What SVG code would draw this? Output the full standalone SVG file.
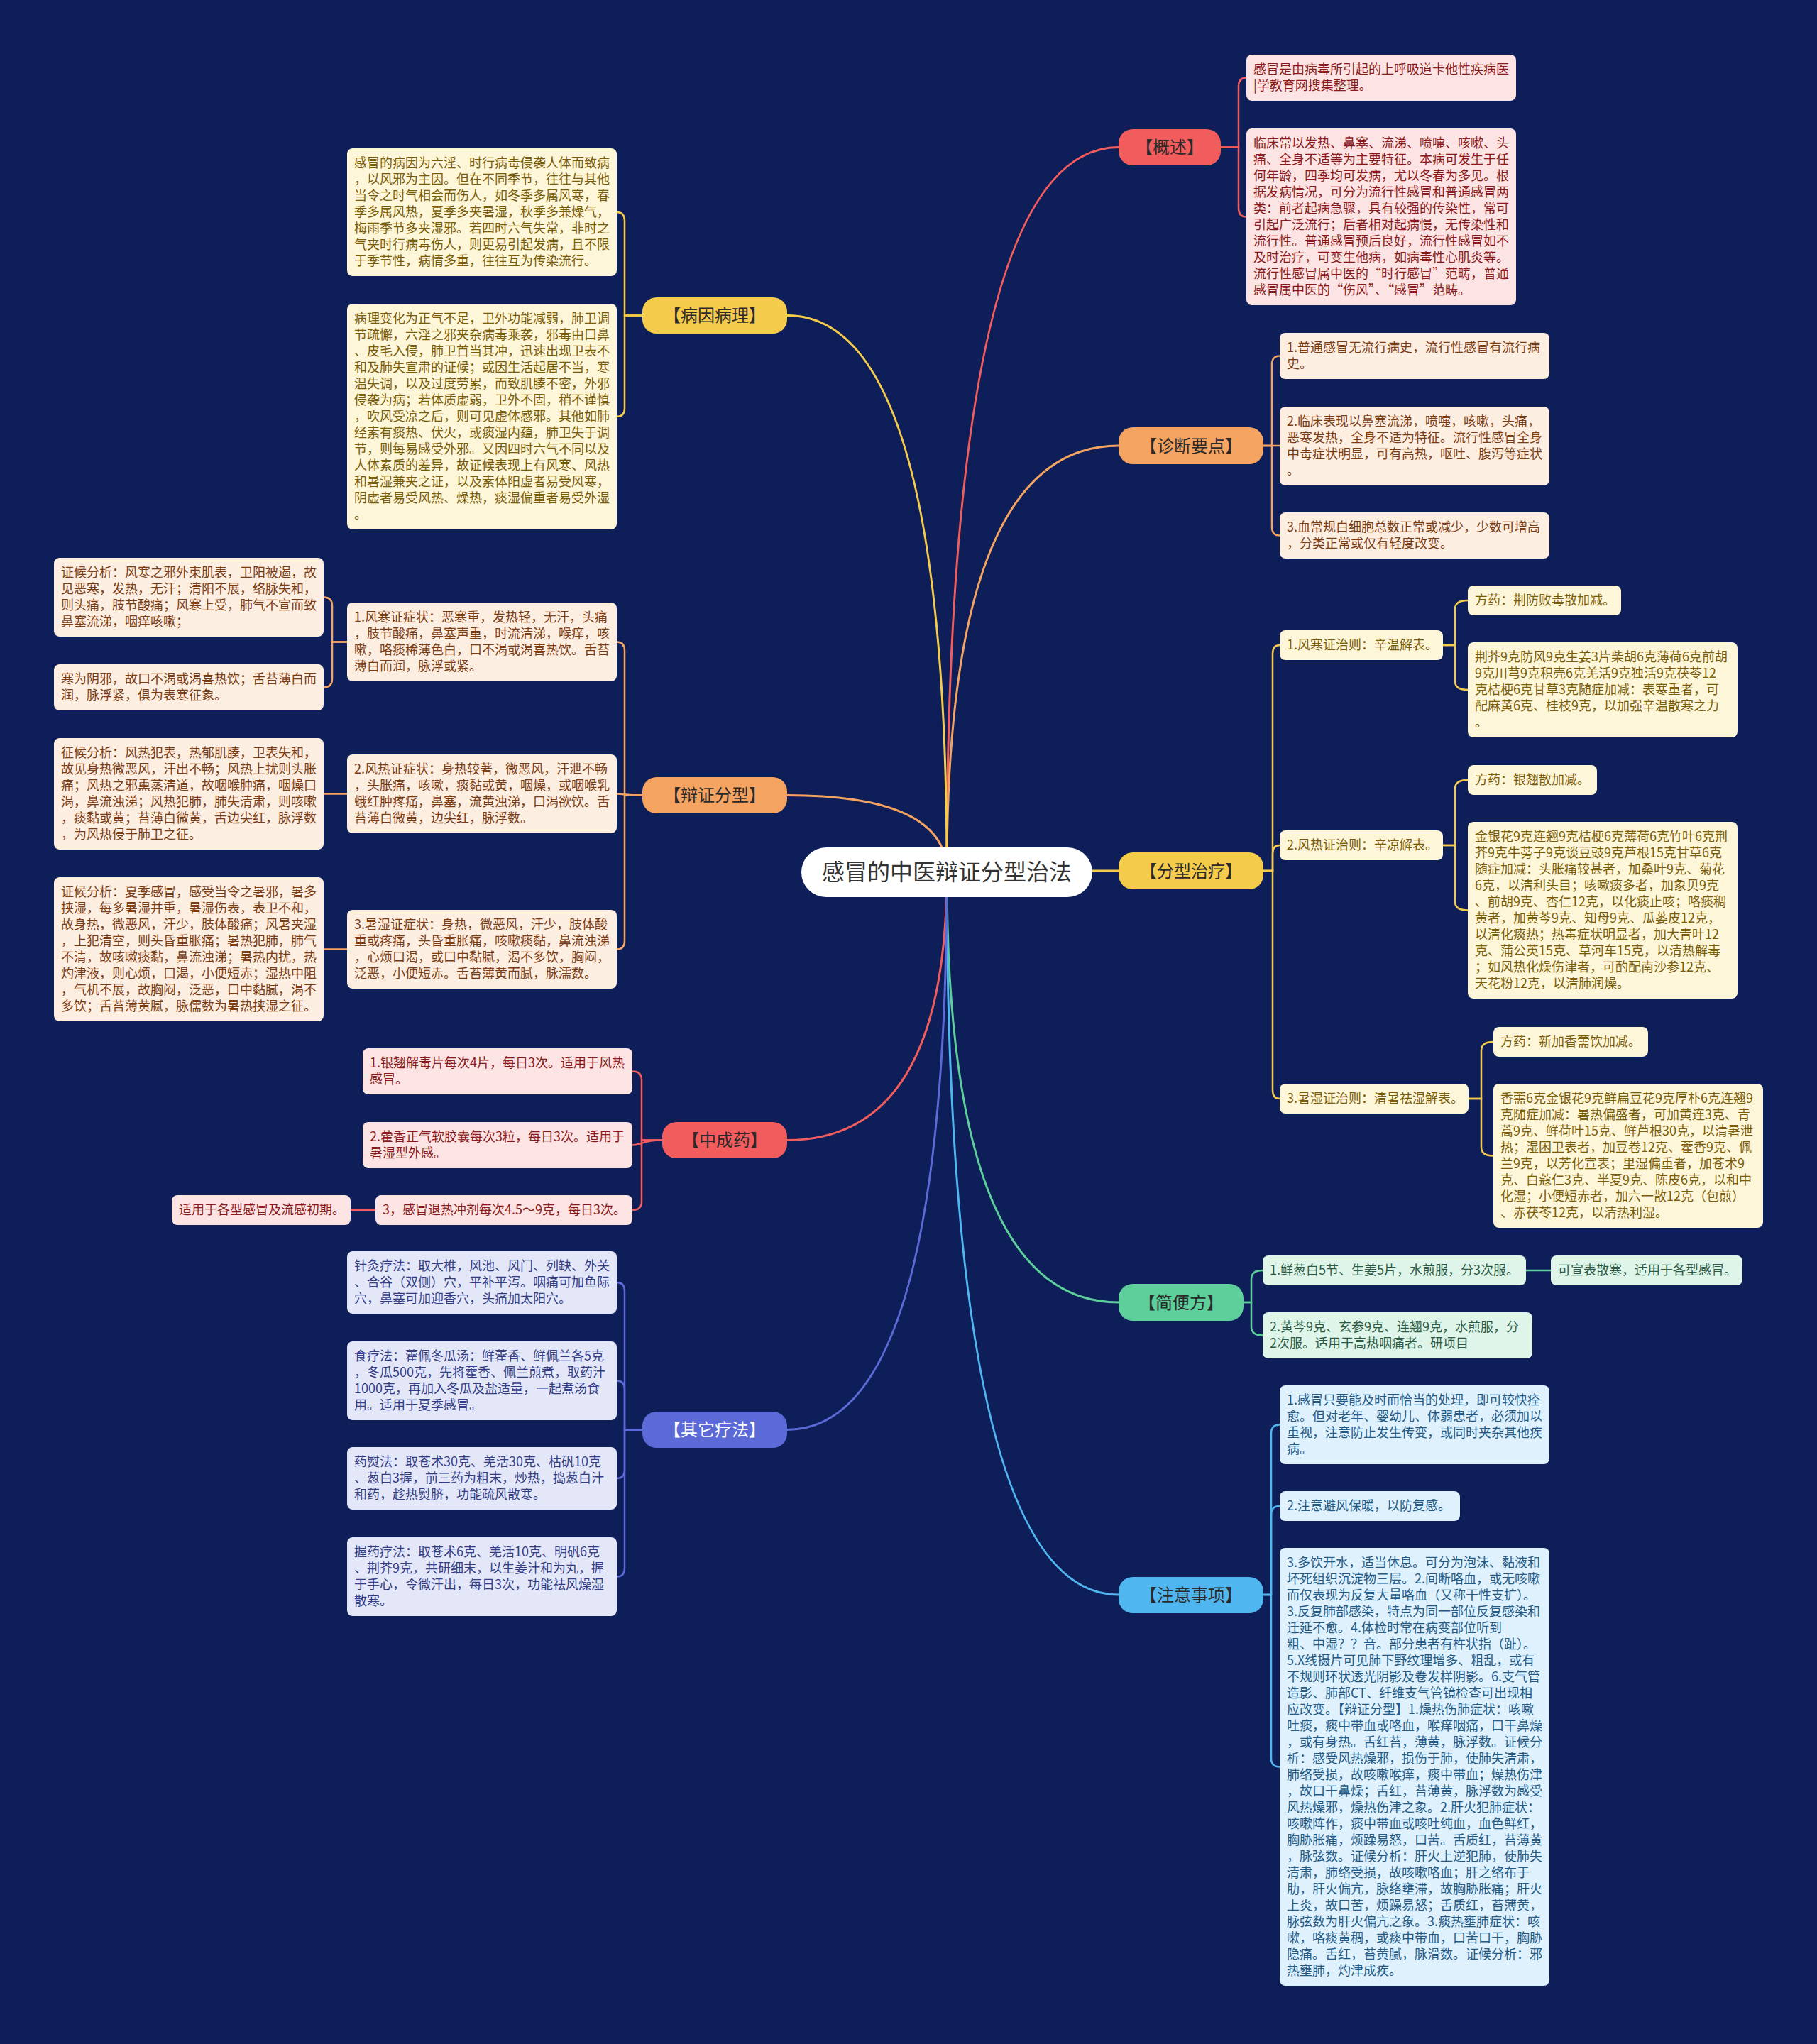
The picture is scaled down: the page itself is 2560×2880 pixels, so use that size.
<svg xmlns="http://www.w3.org/2000/svg" width="2560" height="2880" viewBox="0 0 2560 2880">
<style>
text{font-family:"Noto Sans CJK SC","Noto Sans",sans-serif}
.t{font-size:18px}
.bt{font-size:24px;text-anchor:middle;fill:#2a2a2a}
.ln{fill:none;stroke-width:3;stroke-linecap:round}
.sl{fill:none;stroke-width:2.5;stroke-linecap:round}
.kr{stroke:#f25c5c}.ky{stroke:#f5cb4c}.ko{stroke:#f5a361}.kg{stroke:#5ccf9a}.ki{stroke:#5b6ad6}.kb{stroke:#4fb6ef}
.br{fill:#f25c5c}.by{fill:#f5cb4c}.bo{fill:#f5a361}.bg{fill:#5ccf9a}.bi{fill:#5b6ad6}.bb{fill:#4fb6ef}
.fr{fill:#fde4e4}.fy{fill:#fdf6d9}.fo{fill:#fdeee2}.fg{fill:#e0f5e9}.fi{fill:#e4e7f8}.fb{fill:#def1fd}
.tr{fill:#8a1a1a}.ty{fill:#7a5c08}.to{fill:#7b3c12}.tg{fill:#2b5a44}.ti{fill:#323d85}.tb{fill:#235a86}
</style>
<rect width="2560" height="2880" fill="#0e1e58"/>
<g id="connectors">
<path class="ln kr" d="M1334 1229 Q1334 207.5 1576 207.5"/>
<path class="ln ko" d="M1334 1229 Q1334 628 1576 628"/>
<path class="ln ky" d="M1334 1229 Q1334 1227 1576 1227"/>
<path class="ln kg" d="M1334 1229 Q1334 1835 1576 1835"/>
<path class="ln kb" d="M1334 1229 Q1334 2247 1576 2247"/>
<path class="ln ky" d="M1334 1229 Q1334 444.5 1109 444.5"/>
<path class="ln ko" d="M1334 1229 Q1334 1120.5 1109 1120.5"/>
<path class="ln kr" d="M1334 1229 Q1334 1606.5 1109 1606.5"/>
<path class="ln ki" d="M1334 1229 Q1334 2014.5 1109 2014.5"/>
<path class="sl kr" d="M1720 207.5 H1745 V121.5 Q1745 109.5 1756 109.5"/>
<path class="sl kr" d="M1720 207.5 H1745 V293.5 Q1745 305.5 1756 305.5"/>
<path class="sl ko" d="M1780 628 H1792 V513.5 Q1792 501.5 1803 501.5"/>
<path class="sl ko" d="M1780 628 H1803"/>
<path class="sl ko" d="M1780 628 H1792 V742.5 Q1792 754.5 1803 754.5"/>
<path class="sl ky" d="M905 444.5 H880 V311 Q880 299 869 299"/>
<path class="sl ky" d="M905 444.5 H880 V575 Q880 587 869 587"/>
<path class="sl ko" d="M905 1120.5 H880 V916.5 Q880 904.5 869 904.5"/>
<path class="sl ko" d="M905 1120.5 C880 1120.5 880 1118.5 869 1118.5"/>
<path class="sl ko" d="M905 1120.5 H880 V1325.5 Q880 1337.5 869 1337.5"/>
<path class="sl ko" d="M489 904.5 H468 V853.5 Q468 841.5 456 841.5"/>
<path class="sl ko" d="M489 904.5 H468 V956.5 Q468 968.5 456 968.5"/>
<path class="sl ko" d="M489 1118.5 H456"/>
<path class="sl ko" d="M489 1337.5 H456"/>
<path class="sl kr" d="M933 1606.5 H904 V1521.5 Q904 1509.5 891 1509.5"/>
<path class="sl kr" d="M933 1606.5 C904 1606.5 904 1613.5 891 1613.5"/>
<path class="sl kr" d="M933 1606.5 H904 V1693 Q904 1705 891 1705"/>
<path class="sl kr" d="M529 1705 H494"/>
<path class="sl ki" d="M905 2014.5 H880 V1819 Q880 1807 869 1807"/>
<path class="sl ki" d="M905 2014.5 H880 V1957.5 Q880 1945.5 869 1945.5"/>
<path class="sl ki" d="M905 2014.5 H880 V2071 Q880 2083 869 2083"/>
<path class="sl ki" d="M905 2014.5 H880 V2209.5 Q880 2221.5 869 2221.5"/>
<path class="sl ky" d="M1780 1227 H1793 V921 Q1793 909 1803 909"/>
<path class="sl ky" d="M1780 1227 H1793 V1203 Q1793 1191 1803 1191"/>
<path class="sl ky" d="M1780 1227 H1793 V1536 Q1793 1548 1803 1548"/>
<path class="sl ky" d="M2033 909 H2050 V858 Q2050 846 2068 846"/>
<path class="sl ky" d="M2033 909 H2050 V960 Q2050 972 2068 972"/>
<path class="sl ky" d="M2033 1191 H2050 V1111 Q2050 1099 2068 1099"/>
<path class="sl ky" d="M2033 1191 H2050 V1270.5 Q2050 1282.5 2068 1282.5"/>
<path class="sl ky" d="M2069 1548 H2087 V1480 Q2087 1468 2104 1468"/>
<path class="sl ky" d="M2069 1548 H2087 V1616.5 Q2087 1628.5 2104 1628.5"/>
<path class="sl kg" d="M1752 1835 H1763 V1802 Q1763 1790 1779 1790"/>
<path class="sl kg" d="M1752 1835 H1763 V1869.5 Q1763 1881.5 1779 1881.5"/>
<path class="sl kg" d="M2150 1790 H2185" stroke-width="4"/>
<path class="sl kb" d="M1780 2247 H1791 V2019.5 Q1791 2007.5 1803 2007.5"/>
<path class="sl kb" d="M1780 2247 H1791 V2134 Q1791 2122 1803 2122"/>
<path class="sl kb" d="M1780 2247 H1791 V2477.5 Q1791 2489.5 1803 2489.5"/>
</g>

<g id="center"><rect x="1129" y="1194" width="410" height="70" rx="35" fill="#ffffff"/><text x="1334" y="1240" font-size="32" text-anchor="middle" fill="#333333">感冒的中医辩证分型治法</text></g>

<g id="b-gaishu"><rect class="br" x="1576" y="182" width="144" height="51" rx="20"/><text class="bt" x="1648" y="216">【概述】</text></g>
<g id="b-zhenduan"><rect class="bo" x="1576" y="602" width="204" height="52" rx="20"/><text class="bt" x="1678" y="637">【诊断要点】</text></g>
<g id="b-fenxing"><rect class="by" x="1576" y="1201" width="204" height="52" rx="20"/><text class="bt" x="1678" y="1236">【分型治疗】</text></g>
<g id="b-jianbian"><rect class="bg" x="1576" y="1809" width="176" height="52" rx="20"/><text class="bt" x="1664" y="1844">【简便方】</text></g>
<g id="b-zhuyi"><rect class="bb" x="1576" y="2222" width="204" height="51" rx="20"/><text class="bt" x="1678" y="2256">【注意事项】</text></g>
<g id="b-bingyin"><rect class="by" x="905" y="419" width="204" height="51" rx="20"/><text class="bt" x="1007" y="453">【病因病理】</text></g>
<g id="b-bianzheng"><rect class="bo" x="905" y="1095" width="204" height="51" rx="20"/><text class="bt" x="1007" y="1129">【辩证分型】</text></g>
<g id="b-zhongchengyao"><rect class="br" x="933" y="1581" width="176" height="51" rx="20"/><text class="bt" x="1021" y="1615">【中成药】</text></g>
<g id="b-qita"><rect class="bi" x="905" y="1989" width="204" height="51" rx="20"/><text class="bt" x="1007" y="2023" style="fill:#ffffff">【其它疗法】</text></g>

<g id="gaishu-1"><rect class="fr" x="1756" y="77" width="380" height="65" rx="8"/><text class="t tr"><tspan x="1766" y="104">感冒是由病毒所引起的上呼吸道卡他性疾病医</tspan><tspan x="1766" y="127">|学教育网搜集整理。</tspan></text></g>
<g id="gaishu-2"><rect class="fr" x="1756" y="181" width="380" height="249" rx="8"/><text class="t tr"><tspan x="1766" y="208">临床常以发热、鼻塞、流涕、喷嚏、咳嗽、头</tspan><tspan x="1766" y="231">痛、全身不适等为主要特征。本病可发生于任</tspan><tspan x="1766" y="254">何年龄，四季均可发病，尤以冬春为多见。根</tspan><tspan x="1766" y="277">据发病情况，可分为流行性感冒和普通感冒两</tspan><tspan x="1766" y="300">类：前者起病急骤，具有较强的传染性，常可</tspan><tspan x="1766" y="323">引起广泛流行；后者相对起病慢，无传染性和</tspan><tspan x="1766" y="346">流行性。普通感冒预后良好，流行性感冒如不</tspan><tspan x="1766" y="369">及时治疗，可变生他病，如病毒性心肌炎等。</tspan><tspan x="1766" y="392">流行性感冒属中医的“时行感冒”范畴，普通</tspan><tspan x="1766" y="415">感冒属中医的“伤风”、“感冒”范畴。</tspan></text></g>

<g id="zhenduan-1"><rect class="fo" x="1803" y="469" width="380" height="65" rx="8"/><text class="t to"><tspan x="1813" y="496">1.普通感冒无流行病史，流行性感冒有流行病</tspan><tspan x="1813" y="519">史。</tspan></text></g>
<g id="zhenduan-2"><rect class="fo" x="1803" y="573" width="380" height="111" rx="8"/><text class="t to"><tspan x="1813" y="600">2.临床表现以鼻塞流涕，喷嚏，咳嗽，头痛，</tspan><tspan x="1813" y="623">恶寒发热，全身不适为特征。流行性感冒全身</tspan><tspan x="1813" y="646">中毒症状明显，可有高热，呕吐、腹泻等症状</tspan><tspan x="1813" y="669">。</tspan></text></g>
<g id="zhenduan-3"><rect class="fo" x="1803" y="722" width="380" height="65" rx="8"/><text class="t to"><tspan x="1813" y="749">3.血常规白细胞总数正常或减少，少数可增高</tspan><tspan x="1813" y="772">，分类正常或仅有轻度改变。</tspan></text></g>

<g id="bingyin-1"><rect class="fy" x="489" y="209" width="380" height="180" rx="8"/><text class="t ty"><tspan x="499" y="236">感冒的病因为六淫、时行病毒侵袭人体而致病</tspan><tspan x="499" y="259">，以风邪为主因。但在不同季节，往往与其他</tspan><tspan x="499" y="282">当令之时气相会而伤人，如冬季多属风寒，春</tspan><tspan x="499" y="305">季多属风热，夏季多夹暑湿，秋季多兼燥气，</tspan><tspan x="499" y="328">梅雨季节多夹湿邪。若四时六气失常，非时之</tspan><tspan x="499" y="351">气夹时行病毒伤人，则更易引起发病，且不限</tspan><tspan x="499" y="374">于季节性，病情多重，往往互为传染流行。</tspan></text></g>
<g id="bingyin-2"><rect class="fy" x="489" y="428" width="380" height="318" rx="8"/><text class="t ty"><tspan x="499" y="455">病理变化为正气不足，卫外功能减弱，肺卫调</tspan><tspan x="499" y="478">节疏懈，六淫之邪夹杂病毒乘袭，邪毒由口鼻</tspan><tspan x="499" y="501">、皮毛入侵，肺卫首当其冲，迅速出现卫表不</tspan><tspan x="499" y="524">和及肺失宣肃的证候；或因生活起居不当，寒</tspan><tspan x="499" y="547">温失调，以及过度劳累，而致肌腠不密，外邪</tspan><tspan x="499" y="570">侵袭为病；若体质虚弱，卫外不固，稍不谨慎</tspan><tspan x="499" y="593">，吹风受凉之后，则可见虚体感邪。其他如肺</tspan><tspan x="499" y="616">经素有痰热、伏火，或痰湿内蕴，肺卫失于调</tspan><tspan x="499" y="639">节，则每易感受外邪。又因四时六气不同以及</tspan><tspan x="499" y="662">人体素质的差异，故证候表现上有风寒、风热</tspan><tspan x="499" y="685">和暑湿兼夹之证，以及素体阳虚者易受风寒，</tspan><tspan x="499" y="708">阴虚者易受风热、燥热，痰湿偏重者易受外湿</tspan><tspan x="499" y="731">。</tspan></text></g>

<g id="bianzheng-1"><rect class="fo" x="489" y="849" width="380" height="111" rx="8"/><text class="t to"><tspan x="499" y="876">1.风寒证症状：恶寒重，发热轻，无汗，头痛</tspan><tspan x="499" y="899">，肢节酸痛，鼻塞声重，时流清涕，喉痒，咳</tspan><tspan x="499" y="922">嗽，咯痰稀薄色白，口不渴或渴喜热饮。舌苔</tspan><tspan x="499" y="945">薄白而润，脉浮或紧。</tspan></text></g>
<g id="bianzheng-1a"><rect class="fo" x="76" y="786" width="380" height="111" rx="8"/><text class="t to"><tspan x="86" y="813">证候分析：风寒之邪外束肌表，卫阳被遏，故</tspan><tspan x="86" y="836">见恶寒，发热，无汗；清阳不展，络脉失和，</tspan><tspan x="86" y="859">则头痛，肢节酸痛；风寒上受，肺气不宣而致</tspan><tspan x="86" y="882">鼻塞流涕，咽痒咳嗽；</tspan></text></g>
<g id="bianzheng-1b"><rect class="fo" x="76" y="936" width="380" height="65" rx="8"/><text class="t to"><tspan x="86" y="963">寒为阴邪，故口不渴或渴喜热饮；舌苔薄白而</tspan><tspan x="86" y="986">润，脉浮紧，俱为表寒征象。</tspan></text></g>
<g id="bianzheng-2"><rect class="fo" x="489" y="1063" width="380" height="111" rx="8"/><text class="t to"><tspan x="499" y="1090">2.风热证症状：身热较著，微恶风，汗泄不畅</tspan><tspan x="499" y="1113">，头胀痛，咳嗽，痰黏或黄，咽燥，或咽喉乳</tspan><tspan x="499" y="1136">蛾红肿疼痛，鼻塞，流黄浊涕，口渴欲饮。舌</tspan><tspan x="499" y="1159">苔薄白微黄，边尖红，脉浮数。</tspan></text></g>
<g id="bianzheng-2a"><rect class="fo" x="76" y="1040" width="380" height="157" rx="8"/><text class="t to"><tspan x="86" y="1067">征候分析：风热犯表，热郁肌腠，卫表失和，</tspan><tspan x="86" y="1090">故见身热微恶风，汗出不畅；风热上扰则头胀</tspan><tspan x="86" y="1113">痛；风热之邪熏蒸清道，故咽喉肿痛，咽燥口</tspan><tspan x="86" y="1136">渴，鼻流浊涕；风热犯肺，肺失清肃，则咳嗽</tspan><tspan x="86" y="1159">，痰黏或黄；苔薄白微黄，舌边尖红，脉浮数</tspan><tspan x="86" y="1182">，为风热侵于肺卫之征。</tspan></text></g>
<g id="bianzheng-3"><rect class="fo" x="489" y="1282" width="380" height="111" rx="8"/><text class="t to"><tspan x="499" y="1309">3.暑湿证症状：身热，微恶风，汗少，肢体酸</tspan><tspan x="499" y="1332">重或疼痛，头昏重胀痛，咳嗽痰黏，鼻流浊涕</tspan><tspan x="499" y="1355">，心烦口渴，或口中黏腻，渴不多饮，胸闷，</tspan><tspan x="499" y="1378">泛恶，小便短赤。舌苔薄黄而腻，脉濡数。</tspan></text></g>
<g id="bianzheng-3a"><rect class="fo" x="76" y="1236" width="380" height="203" rx="8"/><text class="t to"><tspan x="86" y="1263">证候分析：夏季感冒，感受当令之暑邪，暑多</tspan><tspan x="86" y="1286">挟湿，每多暑湿并重，暑湿伤表，表卫不和，</tspan><tspan x="86" y="1309">故身热，微恶风，汗少，肢体酸痛；风暑夹湿</tspan><tspan x="86" y="1332">，上犯清空，则头昏重胀痛；暑热犯肺，肺气</tspan><tspan x="86" y="1355">不清，故咳嗽痰黏，鼻流浊涕；暑热内扰，热</tspan><tspan x="86" y="1378">灼津液，则心烦，口渴，小便短赤；湿热中阻</tspan><tspan x="86" y="1401">，气机不展，故胸闷，泛恶，口中黏腻，渴不</tspan><tspan x="86" y="1424">多饮；舌苔薄黄腻，脉儒数为暑热挟湿之征。</tspan></text></g>

<g id="zcy-1"><rect class="fr" x="511" y="1477" width="380" height="65" rx="8"/><text class="t tr"><tspan x="521" y="1504">1.银翘解毒片每次4片，每日3次。适用于风热</tspan><tspan x="521" y="1527">感冒。</tspan></text></g>
<g id="zcy-2"><rect class="fr" x="511" y="1581" width="380" height="65" rx="8"/><text class="t tr"><tspan x="521" y="1608">2.藿香正气软胶囊每次3粒，每日3次。适用于</tspan><tspan x="521" y="1631">暑湿型外感。</tspan></text></g>
<g id="zcy-3"><rect class="fr" x="529" y="1684" width="362" height="42" rx="8"/><text class="t tr" x="539" y="1711">3，感冒退热冲剂每次4.5～9克，每日3次。</text></g>
<g id="zcy-3a"><rect class="fr" x="242" y="1684" width="252" height="42" rx="8"/><text class="t tr" x="252" y="1711">适用于各型感冒及流感初期。</text></g>

<g id="qita-1"><rect class="fi" x="489" y="1763" width="380" height="88" rx="8"/><text class="t ti"><tspan x="499" y="1790">针灸疗法：取大椎，风池、风门、列缺、外关</tspan><tspan x="499" y="1813">、合谷（双侧）穴，平补平泻。咽痛可加鱼际</tspan><tspan x="499" y="1836">穴，鼻塞可加迎香穴，头痛加太阳穴。</tspan></text></g>
<g id="qita-2"><rect class="fi" x="489" y="1890" width="380" height="111" rx="8"/><text class="t ti"><tspan x="499" y="1917">食疗法：藿佩冬瓜汤：鲜藿香、鲜佩兰各5克</tspan><tspan x="499" y="1940">，冬瓜500克，先将藿香、佩兰煎煮，取药汁</tspan><tspan x="499" y="1963">1000克，再加入冬瓜及盐适量，一起煮汤食</tspan><tspan x="499" y="1986">用。适用于夏季感冒。</tspan></text></g>
<g id="qita-3"><rect class="fi" x="489" y="2039" width="380" height="88" rx="8"/><text class="t ti"><tspan x="499" y="2066">药熨法：取苍术30克、羌活30克、枯矾10克</tspan><tspan x="499" y="2089">、葱白3握，前三药为粗末，炒热，捣葱白汁</tspan><tspan x="499" y="2112">和药，趁热熨脐，功能疏风散寒。</tspan></text></g>
<g id="qita-4"><rect class="fi" x="489" y="2166" width="380" height="111" rx="8"/><text class="t ti"><tspan x="499" y="2193">握药疗法：取苍术6克、羌活10克、明矾6克</tspan><tspan x="499" y="2216">、荆芥9克，共研细末，以生姜汁和为丸，握</tspan><tspan x="499" y="2239">于手心，令微汗出，每日3次，功能祛风燥湿</tspan><tspan x="499" y="2262">散寒。</tspan></text></g>

<g id="fx-1"><rect class="fy" x="1803" y="888" width="230" height="42" rx="8"/><text class="t ty" x="1813" y="915">1.风寒证治则：辛温解表。</text></g>
<g id="fx-1a"><rect class="fy" x="2068" y="825" width="216" height="42" rx="8"/><text class="t ty" x="2078" y="852">方药：荆防败毒散加减。</text></g>
<g id="fx-1b"><rect class="fy" x="2068" y="905" width="380" height="134" rx="8"/><text class="t ty"><tspan x="2078" y="932">荆芥9克防风9克生姜3片柴胡6克薄荷6克前胡</tspan><tspan x="2078" y="955">9克川芎9克积壳6克羌活9克独活9克茯苓12</tspan><tspan x="2078" y="978">克桔梗6克甘草3克随症加减：表寒重者，可</tspan><tspan x="2078" y="1001">配麻黄6克、桂枝9克，以加强辛温散寒之力</tspan><tspan x="2078" y="1024">。</tspan></text></g>
<g id="fx-2"><rect class="fy" x="1803" y="1170" width="230" height="42" rx="8"/><text class="t ty" x="1813" y="1197">2.风热证治则：辛凉解表。</text></g>
<g id="fx-2a"><rect class="fy" x="2068" y="1078" width="182" height="42" rx="8"/><text class="t ty" x="2078" y="1105">方药：银翘散加减。</text></g>
<g id="fx-2b"><rect class="fy" x="2068" y="1158" width="380" height="249" rx="8"/><text class="t ty"><tspan x="2078" y="1185">金银花9克连翘9克桔梗6克薄荷6克竹叶6克荆</tspan><tspan x="2078" y="1208">芥9克牛蒡子9克谈豆豉9克芦根15克甘草6克</tspan><tspan x="2078" y="1231">随症加减：头胀痛较甚者，加桑叶9克、菊花</tspan><tspan x="2078" y="1254">6克，以清利头目；咳嗽痰多者，加象贝9克</tspan><tspan x="2078" y="1277">、前胡9克、杏仁12克，以化痰止咳；咯痰稠</tspan><tspan x="2078" y="1300">黄者，加黄芩9克、知母9克、瓜蒌皮12克，</tspan><tspan x="2078" y="1323">以清化痰热；热毒症状明显者，加大青叶12</tspan><tspan x="2078" y="1346">克、蒲公英15克、草河车15克，以清热解毒</tspan><tspan x="2078" y="1369">；如风热化燥伤津者，可酌配南沙参12克、</tspan><tspan x="2078" y="1392">天花粉12克，以清肺润燥。</tspan></text></g>
<g id="fx-3"><rect class="fy" x="1803" y="1527" width="266" height="42" rx="8"/><text class="t ty" x="1813" y="1554">3.暑湿证治则：清暑祛湿解表。</text></g>
<g id="fx-3a"><rect class="fy" x="2104" y="1447" width="218" height="42" rx="8"/><text class="t ty" x="2114" y="1474">方药：新加香薷饮加减。</text></g>
<g id="fx-3b"><rect class="fy" x="2104" y="1527" width="380" height="203" rx="8"/><text class="t ty"><tspan x="2114" y="1554">香薷6克金银花9克鲜扁豆花9克厚朴6克连翘9</tspan><tspan x="2114" y="1577">克随症加减：暑热偏盛者，可加黄连3克、青</tspan><tspan x="2114" y="1600">蒿9克、鲜荷叶15克、鲜芦根30克，以清暑泄</tspan><tspan x="2114" y="1623">热；湿困卫表者，加豆卷12克、藿香9克、佩</tspan><tspan x="2114" y="1646">兰9克，以芳化宣表；里湿偏重者，加苍术9</tspan><tspan x="2114" y="1669">克、白蔻仁3克、半夏9克、陈皮6克，以和中</tspan><tspan x="2114" y="1692">化湿；小便短赤者，加六一散12克（包煎）</tspan><tspan x="2114" y="1715">、赤茯苓12克，以清热利湿。</tspan></text></g>

<g id="jb-1"><rect class="fg" x="1779" y="1769" width="371" height="42" rx="8"/><text class="t tg" x="1789" y="1796">1.鲜葱白5节、生姜5片，水煎服，分3次服。</text></g>
<g id="jb-1a"><rect class="fg" x="2185" y="1769" width="270" height="42" rx="8"/><text class="t tg" x="2195" y="1796">可宣表散寒，适用于各型感冒。</text></g>
<g id="jb-2"><rect class="fg" x="1779" y="1849" width="380" height="65" rx="8"/><text class="t tg"><tspan x="1789" y="1876">2.黄芩9克、玄参9克、连翘9克，水煎服，分</tspan><tspan x="1789" y="1899">2次服。适用于高热咽痛者。研项目</tspan></text></g>

<g id="zy-1"><rect class="fb" x="1803" y="1952" width="380" height="111" rx="8"/><text class="t tb"><tspan x="1813" y="1979">1.感冒只要能及时而恰当的处理，即可较快痊</tspan><tspan x="1813" y="2002">愈。但对老年、婴幼儿、体弱患者，必须加以</tspan><tspan x="1813" y="2025">重视，注意防止发生传变，或同时夹杂其他疾</tspan><tspan x="1813" y="2048">病。</tspan></text></g>
<g id="zy-2"><rect class="fb" x="1803" y="2101" width="254" height="42" rx="8"/><text class="t tb" x="1813" y="2128">2.注意避风保暖，以防复感。</text></g>
<g id="zy-3"><rect class="fb" x="1803" y="2181" width="380" height="617" rx="8"/><text class="t tb"><tspan x="1813" y="2208">3.多饮开水，适当休息。可分为泡沫、黏液和</tspan><tspan x="1813" y="2231">坏死组织沉淀物三层。2.间断咯血，或无咳嗽</tspan><tspan x="1813" y="2254">而仅表现为反复大量咯血（又称干性支扩）。</tspan><tspan x="1813" y="2277">3.反复肺部感染，特点为同一部位反复感染和</tspan><tspan x="1813" y="2300">迁延不愈。4.体检时常在病变部位听到</tspan><tspan x="1813" y="2323">粗、中湿？？音。部分患者有杵状指（趾）。</tspan><tspan x="1813" y="2346">5.X线摄片可见肺下野纹理增多、粗乱，或有</tspan><tspan x="1813" y="2369">不规则环状透光阴影及卷发样阴影。6.支气管</tspan><tspan x="1813" y="2392">造影、肺部CT、纤维支气管镜检查可出现相</tspan><tspan x="1813" y="2415">应改变。【辩证分型】1.燥热伤肺症状：咳嗽</tspan><tspan x="1813" y="2438">吐痰，痰中带血或咯血，喉痒咽痛，口干鼻燥</tspan><tspan x="1813" y="2461">，或有身热。舌红苔，薄黄，脉浮数。证候分</tspan><tspan x="1813" y="2484">析：感受风热燥邪，损伤于肺，使肺失清肃，</tspan><tspan x="1813" y="2507">肺络受损，故咳嗽喉痒，痰中带血；燥热伤津</tspan><tspan x="1813" y="2530">，故口干鼻燥；舌红，苔薄黄，脉浮数为感受</tspan><tspan x="1813" y="2553">风热燥邪，燥热伤津之象。2.肝火犯肺症状：</tspan><tspan x="1813" y="2576">咳嗽阵作，痰中带血或咳吐纯血，血色鲜红，</tspan><tspan x="1813" y="2599">胸胁胀痛，烦躁易怒，口苦。舌质红，苔薄黄</tspan><tspan x="1813" y="2622">，脉弦数。证候分析：肝火上逆犯肺，使肺失</tspan><tspan x="1813" y="2645">清肃，肺络受损，故咳嗽咯血；肝之络布于</tspan><tspan x="1813" y="2668">肋，肝火偏亢，脉络壅滞，故胸胁胀痛；肝火</tspan><tspan x="1813" y="2691">上炎，故口苦，烦躁易怒；舌质红，苔薄黄，</tspan><tspan x="1813" y="2714">脉弦数为肝火偏亢之象。3.痰热壅肺症状：咳</tspan><tspan x="1813" y="2737">嗽，咯痰黄稠，或痰中带血，口苦口干，胸胁</tspan><tspan x="1813" y="2760">隐痛。舌红，苔黄腻，脉滑数。证候分析：邪</tspan><tspan x="1813" y="2783">热壅肺，灼津成疾。</tspan></text></g>
</svg>
